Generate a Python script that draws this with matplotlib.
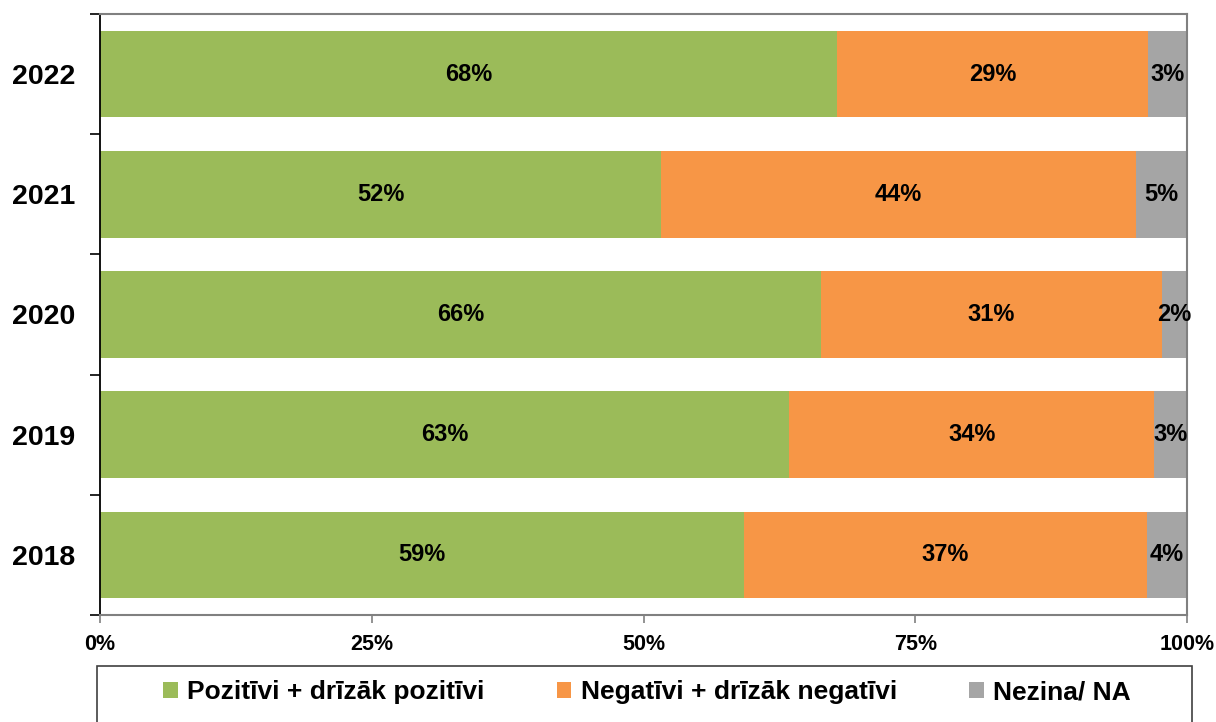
import matplotlib.pyplot as plt
from matplotlib.patches import Rectangle
from matplotlib.ticker import FuncFormatter

plt.rcParams['font.family'] = ['Liberation Sans', 'DejaVu Sans']
plt.rcParams['font.weight'] = 'bold'

years = ["2018", "2019", "2020", "2021", "2022"]
positive = [59.2, 63.4, 66.3, 51.6, 67.8]
negative = [37.1, 33.6, 31.4, 43.7, 28.6]
unknown = [3.7, 3.0, 2.3, 4.7, 3.6]
positive_lbl = ["59%", "63%", "66%", "52%", "68%"]
negative_lbl = ["37%", "34%", "31%", "44%", "29%"]
unknown_lbl = ["4%", "3%", "2%", "5%", "3%"]
series_names = ["Pozitīvi + drīzāk pozitīvi", "Negatīvi + drīzāk negatīvi", "Nezina/ NA"]
colors = ["#9BBB59", "#F79646", "#A5A5A5"]

fig = plt.figure(figsize=(12.16, 7.22), dpi=100)
ax = fig.add_axes([100 / 1216, 1 - 615 / 722, 1087 / 1216, 601 / 722])

y = list(range(len(years)))
left = [0] * len(years)
for vals, lbls, name, col in zip([positive, negative, unknown],
                                 [positive_lbl, negative_lbl, unknown_lbl],
                                 series_names, colors):
    bars = ax.barh(y, vals, left=left, height=0.72, color=col, label=name)
    ax.bar_label(bars, labels=lbls, label_type="center", fontsize=17,
                 fontweight="bold", color="black")
    left = [a + b for a, b in zip(left, vals)]

ax.set_xlim(0, 100)
ax.set_ylim(-0.5, len(years) - 0.5)
ax.set_xticks([0, 25, 50, 75, 100])
ax.xaxis.set_major_formatter(FuncFormatter(lambda v, p: f"{v:.0f}%"))
ax.set_yticks(y)
ax.set_yticklabels(years, fontsize=20.5, fontweight="bold")
ax.set_yticks([i - 0.5 for i in range(len(years) + 1)], minor=True)
ax.tick_params(axis="y", which="major", length=0, pad=18)
ax.tick_params(axis="y", which="minor", length=7, color="black", width=1.2)
ax.tick_params(axis="x", length=6, color="#808080", width=1.2, labelsize=15.5, pad=8)
for lbl in ax.get_xticklabels():
    lbl.set_fontweight("bold")

ax.spines["left"].set_color("black")
ax.spines["left"].set_linewidth(1.3)
for s in ["top", "right", "bottom"]:
    ax.spines[s].set_color("#808080")
    ax.spines[s].set_linewidth(1.5)

# legend box (bottom edge runs past the figure)
fig.patches.append(Rectangle((97 / 1216, -0.05), 1095 / 1216, 0.05 + 1 - 666 / 722,
                             transform=fig.transFigure, fill=False,
                             edgecolor="#404040", linewidth=1.2))
handles, labels = ax.get_legend_handles_labels()
fig.legend(handles, labels, loc="center", bbox_to_anchor=(0.532, 1 - 692 / 722),
           ncol=3, frameon=False, handlelength=0.55, handleheight=0.55,
           handletextpad=0.35, columnspacing=2.75,
           prop={"weight": "bold", "size": 19})

fig.savefig("out.png", dpi=100)
